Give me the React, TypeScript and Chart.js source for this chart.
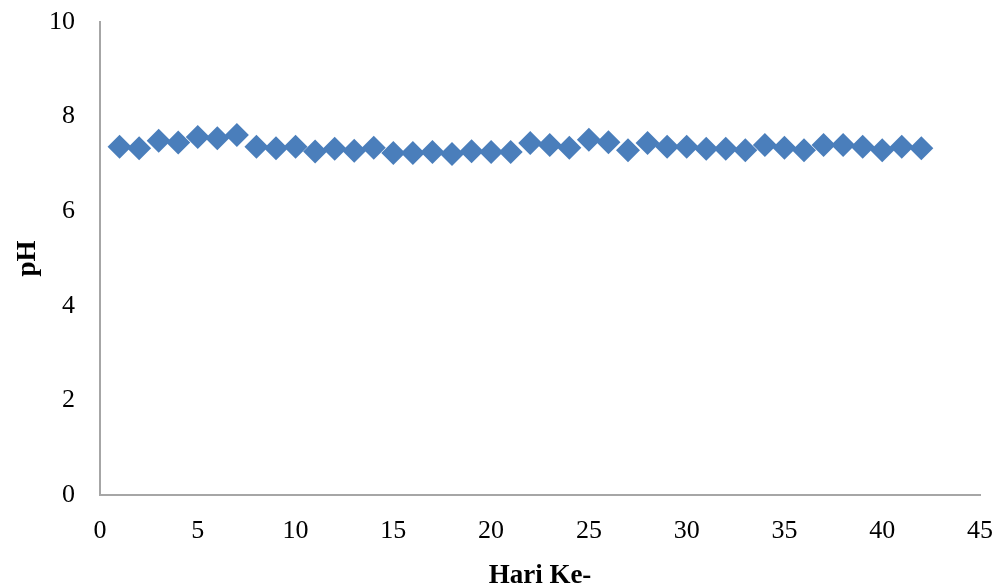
import React, { useEffect, useRef } from "react";
import { Chart, registerables } from "chart.js";

Chart.register(...registerables);

const days: number[] = [
  1, 2, 3, 4, 5, 6, 7, 8, 9, 10, 11, 12, 13, 14, 15, 16, 17, 18, 19, 20, 21,
  22, 23, 24, 25, 26, 27, 28, 29, 30, 31, 32, 33, 34, 35, 36, 37, 38, 39, 40,
  41, 42,
];

const phValues: number[] = [
  7.36, 7.33, 7.49, 7.45, 7.57, 7.54, 7.61, 7.36, 7.33, 7.36, 7.26, 7.32, 7.28,
  7.34, 7.23, 7.23, 7.25, 7.21, 7.27, 7.25, 7.25, 7.44, 7.4, 7.34, 7.51, 7.46,
  7.29, 7.44, 7.36, 7.36, 7.32, 7.32, 7.29, 7.4, 7.34, 7.29, 7.4, 7.4, 7.36,
  7.29, 7.36, 7.33,
];

const xTitle = "Hari Ke-";
const yTitle = "pH";

export default function App() {
  const ref = useRef<HTMLCanvasElement | null>(null);

  useEffect(() => {
    if (!ref.current) return;
    const serif = "'Liberation Serif', 'Times New Roman', serif";
    const chart = new Chart(ref.current, {
      type: "scatter",
      data: {
        datasets: [
          {
            data: days.map((d, i) => ({ x: d, y: phValues[i] })),
            backgroundColor: "#4a7ebb",
            borderColor: "#4a7ebb",
            pointStyle: "rectRot",
            pointRadius: 12,
            pointBorderWidth: 0,
            showLine: false,
          },
        ],
      },
      options: {
        animation: false,
        responsive: false,
        devicePixelRatio: 1,
        layout: { padding: { left: 0, top: 22, right: 0, bottom: 0 } },
        plugins: { legend: { display: false }, tooltip: { enabled: false } },
        scales: {
          x: {
            type: "linear",
            min: 0,
            max: 45,
            ticks: {
              stepSize: 5,
              padding: 21,
              color: "#000",
              font: { family: serif, size: 26, lineHeight: 1.2 },
            },
            grid: { display: false, drawTicks: false },
            border: { display: true, color: "#a6a6a6", width: 2 },
            title: {
              display: true,
              text: xTitle,
              color: "#000",
              font: { family: serif, size: 27, weight: "bold", lineHeight: 0.8 },
              padding: { top: 0, bottom: 0 },
            },
            afterFit: (s: any) => {
              s.height = 92;
              s.paddingLeft = 0;
              s.paddingRight = 18;
            },
          },
          y: {
            min: 0,
            max: 10,
            ticks: {
              stepSize: 2,
              padding: 25,
              color: "#000",
              font: { family: serif, size: 26, lineHeight: 1.2 },
            },
            grid: { display: false, drawTicks: false },
            border: { display: true, color: "#a6a6a6", width: 2 },
            title: {
              display: true,
              text: yTitle,
              color: "#000",
              font: { family: serif, size: 27, weight: "bold", lineHeight: 1.2 },
              padding: { top: 12, bottom: 0 },
            },
            afterFit: (s: any) => {
              s.width = 100;
              s.paddingTop = 0;
              s.paddingBottom = 0;
            },
          },
        },
      },
    });
    return () => chart.destroy();
  }, []);

  return (
    <div style={{ position: "fixed", left: 0, top: 0, width: 998, height: 587, background: "#fff" }}>
      <canvas ref={ref} width={998} height={587} />
    </div>
  );
}
